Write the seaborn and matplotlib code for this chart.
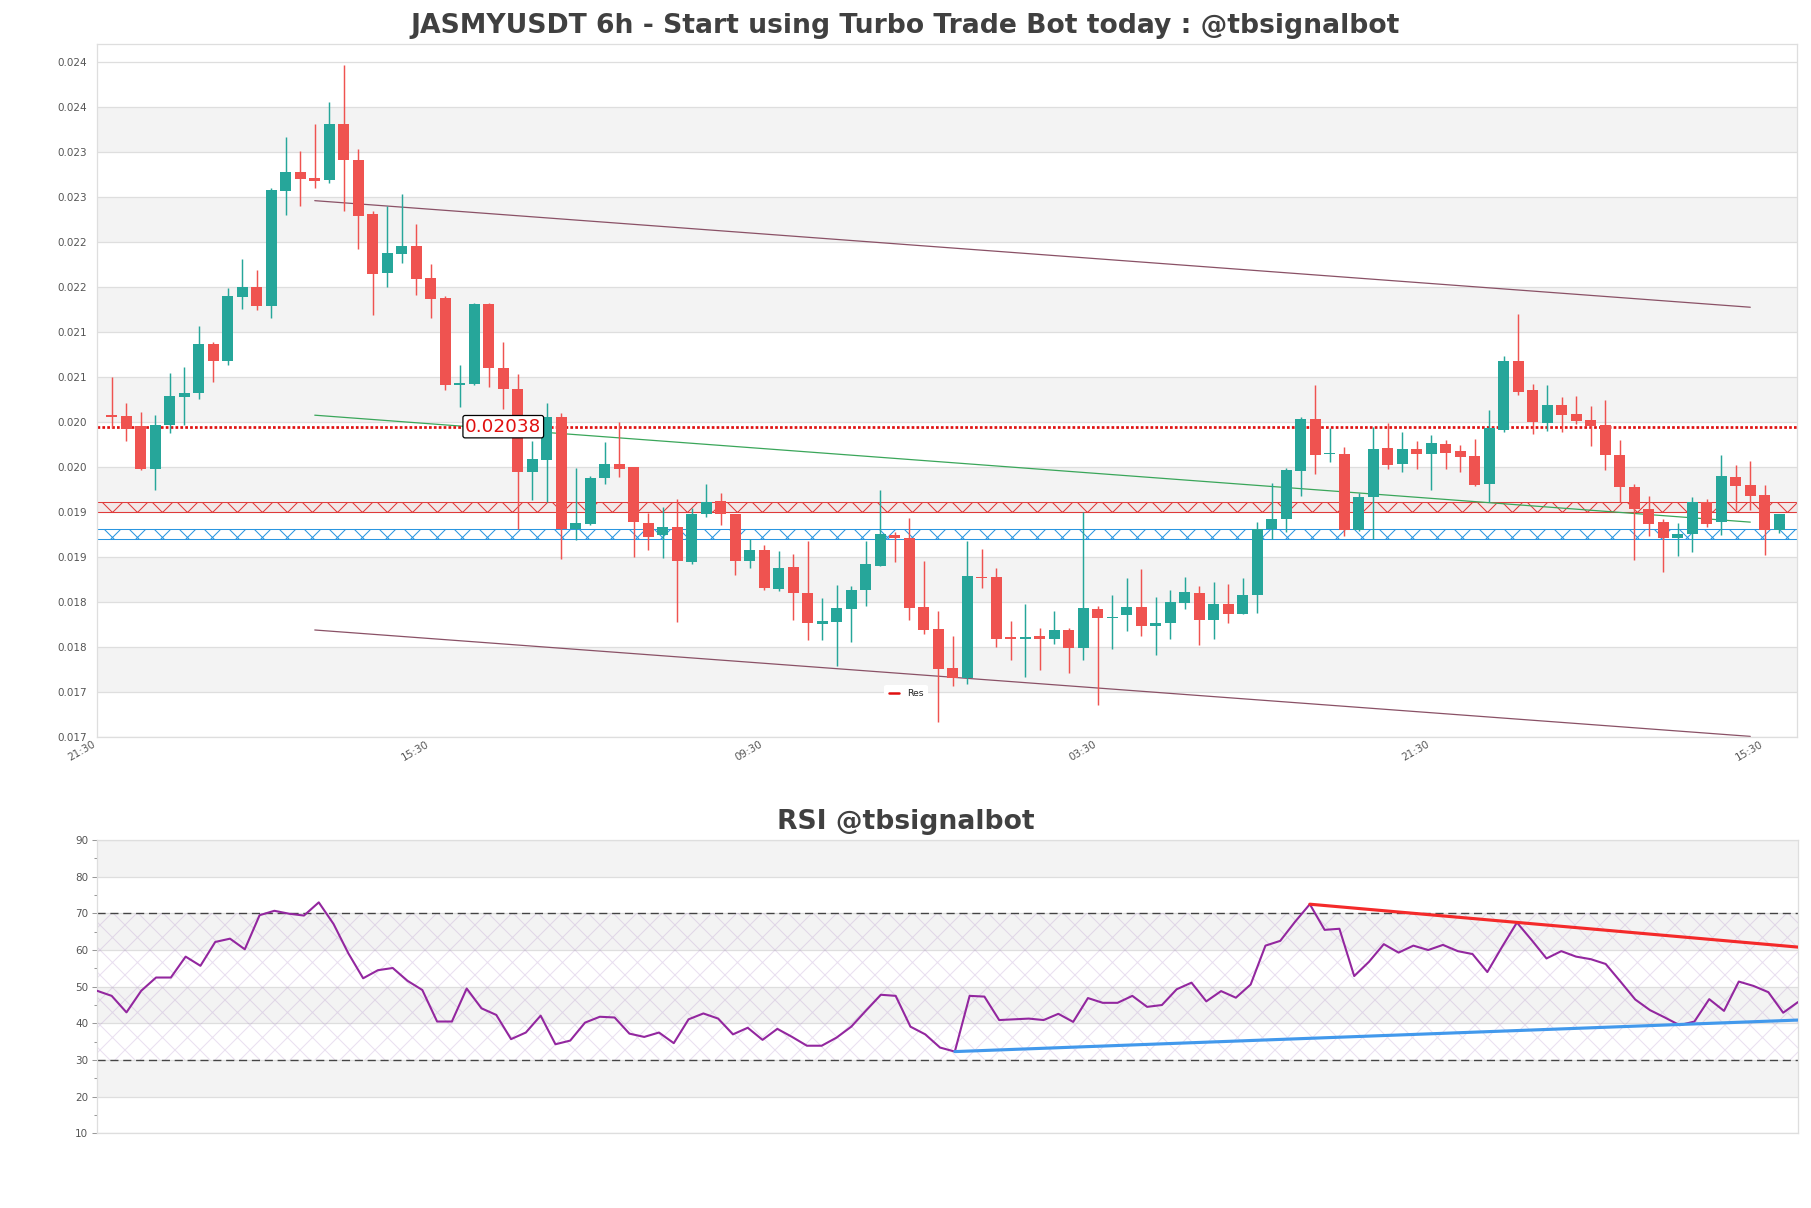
import numpy as np
import pandas as pd
import matplotlib
matplotlib.use('Agg')
import matplotlib.pyplot as plt
import matplotlib.dates as mdates
import matplotlib.ticker as ticker
from matplotlib.lines import Line2D
import seaborn as sns

sns.set_style('white')
plt.rcParams['font.family'] = ['DejaVu Sans']
plt.rcParams['hatch.linewidth'] = 0.5

# 6h candles, prices in units of 1e-5 USDT
times = pd.date_range('2024-09-02 03:30', periods=116, freq='6h')

open_e5 = [
    2050, 2049.8, 2038.2, 1992.5, 2039.3, 2070.8, 2074.1, 2128.1, 2108.9, 2179.5,
    2190, 2169.4, 2294.8, 2315.1, 2308.9, 2306.4, 2367.2, 2328.1, 2269.4, 2205.6,
    2226.3, 2234.6, 2199.8, 2177.9, 2083.1, 2084.7, 2171.1, 2102.3, 2079.2, 1988.2,
    2002.3, 2048.4, 1926.6, 1931.7, 1981.7, 1997.6, 1994.4, 1933.1, 1919.7, 1928.8,
    1890.3, 1942.9, 1957, 1942.9, 1891.8, 1904.1, 1862, 1885.5, 1856.9, 1823.9,
    1826.1, 1840.2, 1860.9, 1886.6, 1920.3, 1917.1, 1842.4, 1818.1, 1775.7, 1764.9,
    1874.7, 1874.7, 1809.1, 1806.9, 1810.2, 1807.6, 1816.7, 1797.8, 1840.2, 1829.8,
    1832.7, 1842.2, 1821.1, 1824.8, 1846.1, 1857.4, 1828.3, 1845.4, 1834.1, 1854.5,
    1926.6, 1937.8, 1989.3, 2046.9, 2008.1, 2008.1, 1925.1, 1961, 2015, 1996.9,
    2013.5, 2008.1, 2019.3, 2011.7, 2006.3, 1976.2, 2034.9, 2109.6, 2078.1, 2042.2,
    2061.7, 2052.3, 2045.8, 2040, 2007.4, 1972.6, 1948.7, 1933.8, 1917.1, 1920.8,
    1955.9, 1933.8, 1983.5, 1974.8, 1963.9, 1925.1,
]
high_e5 = [
    2092, 2064.3, 2054.5, 2050.9, 2096.9, 2103.4, 2147.6, 2130.2, 2188.9, 2220.5,
    2208.5, 2298, 2352.8, 2337.9, 2367.2, 2391.5, 2431.4, 2340.1, 2272.3, 2278.5,
    2291.1, 2258.9, 2215, 2180, 2105.2, 2173, 2173, 2130.3, 2095.5, 2022.6,
    2063.9, 2052.7, 1993.6, 1984.9, 2021.2, 2043.6, 1994.4, 1944.3, 1950.5, 1959.2,
    1949.1, 1975.9, 1965.7, 1943, 1916.1, 1909.6, 1902.9, 1899.7, 1913.8, 1851.8,
    1865.6, 1864.2, 1913.8, 1969.3, 1923.6, 1938.5, 1892.1, 1837.7, 1810.5, 1913.8,
    1904.8, 1884.1, 1826.8, 1845.3, 1819.2, 1837.7, 1819.2, 1945, 1843.1, 1854.8,
    1873.5, 1883, 1852.7, 1860.1, 1874.7, 1865, 1868.9, 1866.8, 1873.7, 1934.2,
    1976.9, 1992.9, 2048.7, 2083.5, 2036.4, 2016.1, 1965.7, 2037.8, 2041.8, 2032.4,
    2022.2, 2028.8, 2023.7, 2017.9, 2024.8, 2055.9, 2115, 2160.7, 2084.6, 2083.5,
    2070.8, 2071.5, 2060.7, 2067.2, 2023.7, 1975.9, 1962.8, 1937.8, 1933.1, 1961.7,
    1959.2, 2007.4, 1996.5, 2000.9, 1974.8, 1943.5,
]
low_e5 = [
    2037, 2021.9, 1990.4, 1968.6, 2030.9, 2040, 2068.6, 2087.1, 2104.9, 2165.8,
    2165, 2156.7, 2268.7, 2278.5, 2298, 2303.5, 2272.7, 2231.3, 2159.6, 2190.4,
    2216.5, 2181.3, 2156.7, 2078.1, 2059.9, 2083, 2081.7, 2057.4, 1926.6, 1958.5,
    1955.6, 1894, 1914.3, 1931, 1975.9, 1982.8, 1895.8, 1903.4, 1894.7, 1825.1,
    1888.2, 1939.3, 1931.3, 1876.9, 1883.8, 1860.6, 1859.8, 1827.9, 1806.2, 1806.2,
    1777.2, 1803.3, 1843.5, 1886, 1891.3, 1827.9, 1812, 1716.3, 1756.5, 1758,
    1863.1, 1798.9, 1784.4, 1766.3, 1773.6, 1802.2, 1769.6, 1784.4, 1735.1, 1795.9,
    1815.9, 1810.6, 1789.5, 1807.4, 1839.6, 1801.1, 1807.4, 1824.4, 1834, 1835.2,
    1915.7, 1924, 1962.1, 1986.7, 2000.1, 1919.3, 1925, 1916.1, 1991.8, 1988.9,
    1992.5, 1968.6, 1992.5, 1988.2, 1973, 1955.9, 2031.7, 2073, 2030.2, 2033.8,
    2032.4, 2041.1, 2017.2, 1991.1, 1956.6, 1893.2, 1918.6, 1880.5, 1897.9, 1901.2,
    1929.1, 1920.4, 1946.9, 1947.6, 1898.7, 1922.2,
]
close_e5 = [
    2049, 2035.3, 1992.5, 2040, 2071.5, 2074.1, 2128.1, 2108.9, 2180.2, 2190,
    2169.4, 2295.5, 2315.1, 2307.8, 2305.6, 2367.2, 2328.5, 2267.6, 2204.5, 2227,
    2234.6, 2199.1, 2177.3, 2082.8, 2085, 2171.1, 2102.3, 2079.2, 1988.2, 2003.1,
    2048.4, 1926.6, 1933.1, 1982.4, 1997.6, 1992.5, 1933.8, 1918.3, 1928.8, 1891.4,
    1942.9, 1955.9, 1942.9, 1891.8, 1904.1, 1862.4, 1884.5, 1857.6, 1825, 1826.5,
    1841, 1860.5, 1888.8, 1921.4, 1917.1, 1841.3, 1817, 1774.6, 1764.9, 1875.8,
    1872.9, 1807.6, 1806.9, 1809.1, 1806.9, 1816.7, 1796.8, 1841, 1829.4, 1831,
    1842.2, 1821.5, 1824.8, 1847.5, 1858.4, 1828.3, 1845.4, 1834.2, 1855.2, 1926.6,
    1937.8, 1991.1, 2046.9, 2007, 2009.6, 1925.1, 1961.7, 2013.9, 1996.1, 2014,
    2008.1, 2020.4, 2009.9, 2004.5, 1974.8, 2037.1, 2109.6, 2075.9, 2043.3, 2061.7,
    2050.9, 2044.3, 2038.2, 2007.4, 1971.9, 1948.7, 1932.4, 1916.4, 1921.1, 1955.9,
    1932.4, 1984.6, 1973.7, 1962.8, 1925.1, 1943.2,
]

rsi = [
    48.9, 47.5, 43.0, 48.9, 52.5, 52.5, 58.2, 55.7, 62.2, 63.1,
    60.2, 69.5, 70.7, 69.9, 69.4, 73.0, 67.1, 59.1, 52.3, 54.5,
    55.1, 51.6, 49.1, 40.5, 40.5, 49.5, 44.1, 42.3, 35.7, 37.5,
    42.1, 34.3, 35.3, 40.2, 41.8, 41.6, 37.2, 36.3, 37.5, 34.6,
    41.1, 42.7, 41.3, 37.0, 38.8, 35.5, 38.5, 36.3, 33.9, 33.9,
    36.1, 39.1, 43.5, 47.8, 47.5, 39.1, 37.0, 33.4, 32.3, 47.5,
    47.3, 40.9, 41.1, 41.3, 40.9, 42.6, 40.4, 46.9, 45.6, 45.6,
    47.5, 44.5, 45.0, 49.3, 51.1, 46.0, 48.8, 47.0, 50.6, 61.2,
    62.5, 67.7, 72.5, 65.5, 65.8, 52.9, 56.8, 61.6, 59.3, 61.2,
    60.0, 61.4, 59.7, 58.9, 54.0, 60.9, 67.5, 62.7, 57.7, 59.7,
    58.2, 57.5, 56.2, 51.4, 46.5, 43.6, 41.6, 39.5, 40.5, 46.6,
    43.4, 51.4, 50.2, 48.5, 42.9, 45.8,
]

# levels and trend lines
res_level = 0.02038
res_zone = (0.019451, 0.019566)
sup_zone = (0.019160, 0.019266)
channel_idx = [14, 113]
channel_upper = [0.022838, 0.021679]
channel_lower = [0.018169, 0.017012]
channel_mid = [0.020505, 0.019342]
rsi_res_idx = [82, 115]
rsi_res_val = [72.5, 60.8]
rsi_sup_idx = [58, 115]
rsi_sup_val = [32.3, 40.9]

price_ticks = np.linspace(0.0170, 0.02435, 16)
tick_times = pd.date_range(times[0] - pd.Timedelta('6h'), periods=6, freq='138h')

df = pd.DataFrame({
    'time': times,
    'open': np.array(open_e5) / 1e5,
    'high': np.array(high_e5) / 1e5,
    'low': np.array(low_e5) / 1e5,
    'close': np.array(close_e5) / 1e5,
    'rsi': rsi,
})

UP, DOWN = '#26a69a', '#ef5350'
BAND = '#f3f3f3'
GRID = '#dedede'
TXT = '#555555'

fig = plt.figure(figsize=(1811 / 150, 1208 / 150), dpi=150)
ax = fig.add_axes([0.0537, 0.3895, 0.9384, 0.5744])
ax2 = fig.add_axes([0.0535, 0.0618, 0.9393, 0.2428])

# ---- price panel
for k in range(1, 15, 2):
    ax.axhspan(price_ticks[k], price_ticks[k + 1], color=BAND, lw=0, zorder=0)
ax.set_yticks(price_ticks)
ax.yaxis.set_major_formatter(ticker.FormatStrFormatter('%.3f'))
ax.grid(axis='y', color=GRID, lw=0.6, zorder=0.5)
ax.set_ylim(0.0170, 0.024546)

# zones
ax.axhspan(*res_zone, facecolor=(1, 0.3, 0.3, 0.06), lw=0, zorder=1)
ax.axhspan(*res_zone, facecolor='none', edgecolor='#e03a3a', hatch='xx', lw=0.5, zorder=1)
ax.axhspan(*sup_zone, facecolor='none', edgecolor='#2a96e0', hatch='xx', lw=0.5, zorder=1)

# channel
ct = times[channel_idx]
ax.plot(ct, channel_upper, color='#8a5166', lw=0.6, zorder=2)
ax.plot(ct, channel_lower, color='#8a5166', lw=0.6, zorder=2)
ax.plot(ct, channel_mid, color='#3aa65a', lw=0.6, zorder=2)

ax.axhline(res_level, color='#e01010', lw=1.3, ls=(0, (1, 0.8)), zorder=2)

# candles
colors = np.where(df['close'] >= df['open'], UP, DOWN)
body_low = df[['open', 'close']].min(axis=1)
body_h = np.maximum((df['close'] - df['open']).abs(), 0.000012)
ax.vlines(df['time'], df['low'], df['high'], colors=colors, lw=0.7, zorder=3)
ax.bar(df['time'], body_h, bottom=body_low, width=0.19, color=colors, lw=0, zorder=4)

ax.text(times[27], res_level, f'{res_level:.5f}', ha='center', va='center',
        color='#e01010', fontsize=8.8, zorder=6,
        bbox=dict(boxstyle='round,pad=0.12', fc='white', ec='black', lw=0.6))

ax.legend(handles=[Line2D([], [], color='#e01010', lw=1.2, label='Res')],
          loc='center', bbox_to_anchor=(0.476, 0.063), fontsize=4.5,
          frameon=True, framealpha=1, edgecolor='white', handlelength=1.1)

ax.set_xlim(times[0] - pd.Timedelta('6h'), times[-1] + pd.Timedelta('7h12min'))
ax.set_xticks(tick_times)
ax.xaxis.set_major_formatter(mdates.DateFormatter('%H:%M'))
ax.tick_params(axis='x', length=0, pad=1, labelsize=5, labelcolor=TXT, rotation=30)
for lab in ax.get_xticklabels():
    lab.set_ha('right')
ax.tick_params(axis='y', length=0, pad=4.8, labelsize=5, labelcolor=TXT)
for s in ax.spines.values():
    s.set_color(GRID)
    s.set_linewidth(0.6)

# ---- RSI panel
for lo in (20, 40, 60, 80):
    ax2.axhspan(lo, lo + 10, color=BAND, lw=0, zorder=0)
ax2.axhspan(30, 70, facecolor='none', edgecolor=(0.62, 0.45, 0.75, 0.22),
            hatch='xx', lw=0, zorder=1)
ax2.grid(axis='y', color=GRID, lw=0.6, zorder=0.5)
ax2.axhline(70, color='#444444', lw=0.65, dashes=(6, 3.5), zorder=2)
ax2.axhline(30, color='#444444', lw=0.65, dashes=(6, 3.5), zorder=2)

sns.lineplot(data=df, x='time', y='rsi', ax=ax2, color='#93279f', lw=1.0, zorder=3)
ax2.plot(times[rsi_res_idx], rsi_res_val, color='#f42a2a', lw=1.5, zorder=4)
ax2.plot(times[rsi_sup_idx], rsi_sup_val, color='#4299ec', lw=1.5, zorder=4)

ax2.set_xlim(times[0], times[-1])
ax2.set_ylim(10, 90)
ax2.set_yticks(range(10, 91, 10))
ax2.yaxis.set_minor_locator(ticker.MultipleLocator(5))
ax2.set_xticks([])
ax2.set_xlabel('')
ax2.set_ylabel('')
ax2.tick_params(axis='y', which='major', length=2.2, width=0.5, color='#999999',
                pad=2, labelsize=5, labelcolor=TXT, left=True)
ax2.tick_params(axis='y', which='minor', length=1.4, width=0.5, color='#999999', left=True)
for s in ax2.spines.values():
    s.set_color(GRID)
    s.set_linewidth(0.6)

fig.text(0.5, 0.9727, 'JASMYUSDT 6h - Start using Turbo Trade Bot today : @tbsignalbot',
         ha='center', va='baseline', fontsize=12.8, fontweight='bold', color='#404040')
fig.text(0.5, 0.3138, 'RSI @tbsignalbot', ha='center', va='baseline',
         fontsize=12.8, fontweight='bold', color='#404040')

fig.savefig('out.png', dpi=150)
